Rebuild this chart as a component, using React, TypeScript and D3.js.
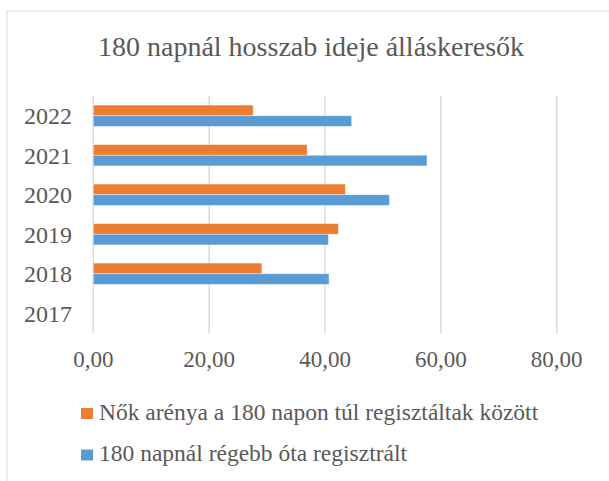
import React from "react";
import * as d3 from "d3";

const years = ["2022", "2021", "2020", "2019", "2018", "2017"];
const womenShare = [27.6, 36.9, 43.5, 42.3, 29.1, null];
const over180 = [44.6, 57.6, 51.1, 40.6, 40.7, null];
const xTicks = [0, 20, 40, 60, 80];
const seriesNames = [
  "Nők arénya a 180 napon túl regisztáltak között",
  "180 napnál régebb óta regisztrált",
];
const colors = ["#ED7D31", "#5B9BD5"];
const title = "180 napnál hosszab ideje álláskeresők";

const W = 609;
const H = 481;
const FONT = "'Liberation Serif', 'Times New Roman', serif";
const TEXT = "#595959";

export default function App() {
  const x = d3.scaleLinear().domain([0, 80]).range([93.3, 556.7]);
  const y = d3.scaleBand().domain(years).range([96, 333]).padding(0);
  const groupH = y.bandwidth() * 0.54;
  const sub = d3.scaleBand().domain(["0", "1"]).range([0, groupH]);
  const series = [womenShare, over180];
  const fmt = (v: number) => v.toFixed(2).replace(".", ",");

  return (
    <svg
      width={W}
      height={H}
      style={{ position: "absolute", left: 0, top: 0, background: "#fff" }}
      fontFamily={FONT}
    >
      <rect x={7} y={11} width={W} height={H} fill="#fff" stroke="#D9D9D9" strokeWidth={1} />
      <text x={311} y={56} textAnchor="middle" fontSize={28} fill={TEXT}>
        {title}
      </text>
      {/* gridlines */}
      {xTicks.map((t) => (
        <line key={t} x1={x(t)} x2={x(t)} y1={96} y2={333} stroke="#D9D9D9" strokeWidth={1.5} />
      ))}
      {/* bars */}
      {series.map((vals, si) =>
        years.map((yr, i) => {
          const v = vals[i];
          if (v == null) return null;
          const y0 = (y(yr) as number) + (y.bandwidth() - groupH) / 2 + (sub(String(si)) as number);
          return (
            <rect
              key={si + "-" + yr}
              x={x(0)}
              y={y0}
              width={x(v) - x(0)}
              height={sub.bandwidth()}
              fill={colors[si]}
              stroke="#fff"
              strokeOpacity={0.5}
              strokeWidth={0.75}
            />
          );
        })
      )}
      {/* y labels */}
      {years.map((yr) => (
        <text
          key={yr}
          x={72}
          y={(y(yr) as number) + y.bandwidth() / 2}
          dy="0.35em"
          textAnchor="end"
          fontSize={24}
          fill={TEXT}
        >
          {yr}
        </text>
      ))}
      {/* x labels */}
      {xTicks.map((t) => (
        <text key={t} x={x(t)} y={367} textAnchor="middle" fontSize={23} fill={TEXT}>
          {fmt(t)}
        </text>
      ))}
      {/* legend */}
      {seriesNames.map((name, i) => (
        <g key={name} transform={`translate(81, ${408 + i * 41.5})`}>
          <rect width={12} height={11} fill={colors[i]} />
          <text x={18} y={11.5} fontSize={23.5} fill={TEXT}>
            {name}
          </text>
        </g>
      ))}
    </svg>
  );
}
